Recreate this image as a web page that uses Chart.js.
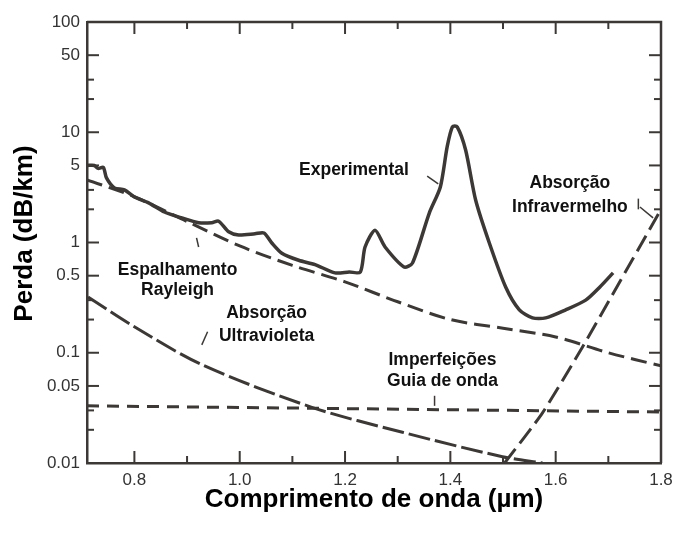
<!DOCTYPE html>
<html>
<head>
<meta charset="utf-8">
<script src="https://cdn.jsdelivr.net/npm/chart.js@4.4.0/dist/chart.umd.min.js"></script>
<style>
  body { margin: 0; background: #fff; }
</style>
</head>
<body>
<canvas id="myChart" width="673" height="533"></canvas>
<script>
// curve readings (wavelength in um, loss in dB/km)
var expX = [0.71,0.724,0.731,0.741,0.747,0.762,0.781,0.80,0.827,0.857,0.89,0.922,0.947,0.96,0.979,0.998,1.029,1.046,1.061,1.08,1.112,1.143,1.181,1.208,1.229,1.238,1.257,1.276,1.312,1.328,1.36,1.381,1.394,1.404,1.413,1.429,1.448,1.474,1.505,1.531,1.556,1.581,1.619,1.657,1.684,1.709];
var expY = [5.0,5.0,4.7,4.8,3.85,3.13,3.0,2.59,2.29,1.89,1.67,1.51,1.51,1.56,1.25,1.17,1.2,1.22,0.99,0.8,0.69,0.63,0.53,0.54,0.54,0.91,1.29,0.91,0.6,0.65,1.85,3.19,7.4,11.2,11.2,6.9,2.43,0.99,0.395,0.245,0.207,0.207,0.245,0.30,0.395,0.53];

var rayX = [0.71,0.8,0.9,1.0,1.1,1.2,1.3,1.4,1.5,1.6,1.7,1.8];
var rayY = [3.7,2.6,1.55,0.93,0.62,0.44,0.29,0.2,0.167,0.139,0.1,0.076];

var uvX = [0.712,0.8,0.928,1.137,1.309,1.499,1.575];
var uvY = [0.32,0.172,0.078,0.032,0.019,0.0114,0.01];

var impX = [0.71,1.8];
var impY = [0.033,0.029];

var irX = [1.503,1.575,1.651,1.8];
var irY = [0.01,0.0285,0.113,2.0];

var xTicks = [0.8,1.0,1.2,1.4,1.6,1.8];
var xMinor = [0.9,1.1,1.3,1.5,1.7];
var yTicks = [0.01,0.05,0.1,0.5,1,5,10,50,100];
var yMinor = [0.02,0.03,0.2,0.3,2,3,20,30];

// text labels: [text, x, y]
var notes = [
  ['Experimental', 1.217, 4.55],
  ['Espalhamento', 0.882, 0.565],
  ['Rayleigh', 0.882, 0.371],
  ['Absorção', 1.051, 0.23],
  ['Ultravioleta', 1.051, 0.142],
  ['Imperfeições', 1.385, 0.0863],
  ['Guia de onda', 1.385, 0.0556],
  ['Absorção', 1.627, 3.47],
  ['Infravermelho', 1.627, 2.1]
];
// leader marks: [x1, y1, x2, y2]
var leaders = [
  [1.356, 4.0, 1.377, 3.4],
  [0.918, 1.1, 0.922, 0.91],
  [0.928, 0.118, 0.939, 0.155],
  [1.37, 0.0407, 1.37, 0.033],
  [1.76, 2.1, 1.785, 1.67],
  [1.757, 2.5, 1.757, 2.0]
];

function pts(xs, ys) {
  return xs.map(function (x, i) { return { x: x, y: ys[i] }; });
}

var ink = '#3b3836';
var sans = '"Liberation Sans", Arial, sans-serif';

var extras = {
  id: 'extras',
  afterDatasetsDraw: function (chart) {
    var c = chart.ctx, a = chart.chartArea;
    var xs = chart.scales.x, ys = chart.scales.y;
    c.save();
    c.strokeStyle = ink;
    // top and right frame
    c.lineWidth = 2.5;
    c.beginPath();
    c.moveTo(a.left, a.top); c.lineTo(a.right, a.top); c.lineTo(a.right, a.bottom);
    c.stroke();
    c.lineWidth = 2;
    // inward ticks on all four sides
    function xt(v, len) {
      var p = xs.getPixelForValue(v);
      c.beginPath(); c.moveTo(p, a.bottom); c.lineTo(p, a.bottom - len); c.stroke();
      c.beginPath(); c.moveTo(p, a.top); c.lineTo(p, a.top + len); c.stroke();
    }
    function yt(v, len) {
      var p = ys.getPixelForValue(v);
      c.beginPath(); c.moveTo(a.left, p); c.lineTo(a.left + len, p); c.stroke();
      c.beginPath(); c.moveTo(a.right, p); c.lineTo(a.right - len, p); c.stroke();
    }
    xTicks.forEach(function (v) { xt(v, 12); });
    xMinor.forEach(function (v) { xt(v, 7); });
    yTicks.forEach(function (v) { yt(v, 12); });
    yMinor.forEach(function (v) { yt(v, 7); });
    // leader marks
    c.lineWidth = 1.5;
    leaders.forEach(function (l) {
      c.beginPath();
      c.moveTo(xs.getPixelForValue(l[0]), ys.getPixelForValue(l[1]));
      c.lineTo(xs.getPixelForValue(l[2]), ys.getPixelForValue(l[3]));
      c.stroke();
    });
    // labels
    c.fillStyle = '#111';
    c.font = 'bold 17.5px ' + sans;
    c.textAlign = 'center';
    c.textBaseline = 'middle';
    notes.forEach(function (n) {
      c.fillText(n[0], xs.getPixelForValue(n[1]), ys.getPixelForValue(n[2]));
    });
    // y axis title (sits a little above the centre in the original)
    c.fillStyle = '#000';
    c.font = 'bold 26px ' + sans;
    c.translate(25, (a.top + a.bottom) / 2 - 9);
    c.rotate(-Math.PI / 2);
    c.fillText('Perda (dB/km)', 0, 0);
    c.restore();
  }
};

var ctx = document.getElementById('myChart').getContext('2d');
var myChart = new Chart(ctx, {
    type: 'scatter',
    data: {
        datasets: [{
            label: 'Experimental',
            data: pts(expX, expY),
            borderColor: ink,
            borderWidth: 3.5,
            tension: 0.25
        },
        {
            label: 'Espalhamento Rayleigh',
            data: pts(rayX, rayY),
            borderColor: ink,
            borderWidth: 3,
            borderDash: [16, 7],
            tension: 0.3
        },
        {
            label: 'Absorção Ultravioleta',
            data: pts(uvX, uvY),
            borderColor: ink,
            borderWidth: 3,
            borderDash: [22, 5],
            tension: 0.3
        },
        {
            label: 'Imperfeições Guia de onda',
            data: pts(impX, impY),
            borderColor: ink,
            borderWidth: 3,
            borderDash: [12, 8]
        },
        {
            label: 'Absorção Infravermelho',
            data: pts(irX, irY),
            borderColor: ink,
            borderWidth: 3,
            borderDash: [18, 7],
            tension: 0.2
        }]
    },
    options: {
        responsive: false,
        animation: false,
        showLine: true,
        elements: { point: { radius: 0 } },
        layout: { padding: { top: 22, right: 12, left: 0, bottom: 14 } },
        plugins: {
            legend: { display: false },
            tooltip: { enabled: false }
        },
        scales: {
            x: {
                type: 'linear',
                min: 0.71,
                max: 1.8,
                afterBuildTicks: function (s) { s.ticks = xTicks.map(function (v) { return { value: v }; }); },
                afterFit: function (s) { s.height = 56; s.paddingLeft = 0; s.paddingRight = 0; },
                grid: { drawOnChartArea: false, drawTicks: false },
                border: { display: true, color: ink, width: 2.5 },
                ticks: {
                    padding: 7,
                    color: '#333',
                    font: { family: sans, size: 17 },
                    callback: function (v) { return v.toFixed(1); }
                },
                title: {
                    display: true,
                    text: 'Comprimento de onda (µm)',
                    color: '#000',
                    padding: { top: 0, bottom: 4 },
                    font: { family: sans, size: 26, weight: 'bold' }
                }
            },
            y: {
                type: 'logarithmic',
                min: 0.01,
                max: 100,
                afterBuildTicks: function (s) { s.ticks = yTicks.map(function (v) { return { value: v }; }); },
                afterFit: function (s) { s.width = 87; s.paddingTop = 0; s.paddingBottom = 0; },
                grid: { drawOnChartArea: false, drawTicks: false },
                border: { display: true, color: ink, width: 2.5 },
                ticks: {
                    padding: 7,
                    color: '#333',
                    font: { family: sans, size: 17 },
                    callback: function (v) { return String(v); }
                }
            }
        }
    },
    plugins: [extras]
});
</script>
</body>
</html>
